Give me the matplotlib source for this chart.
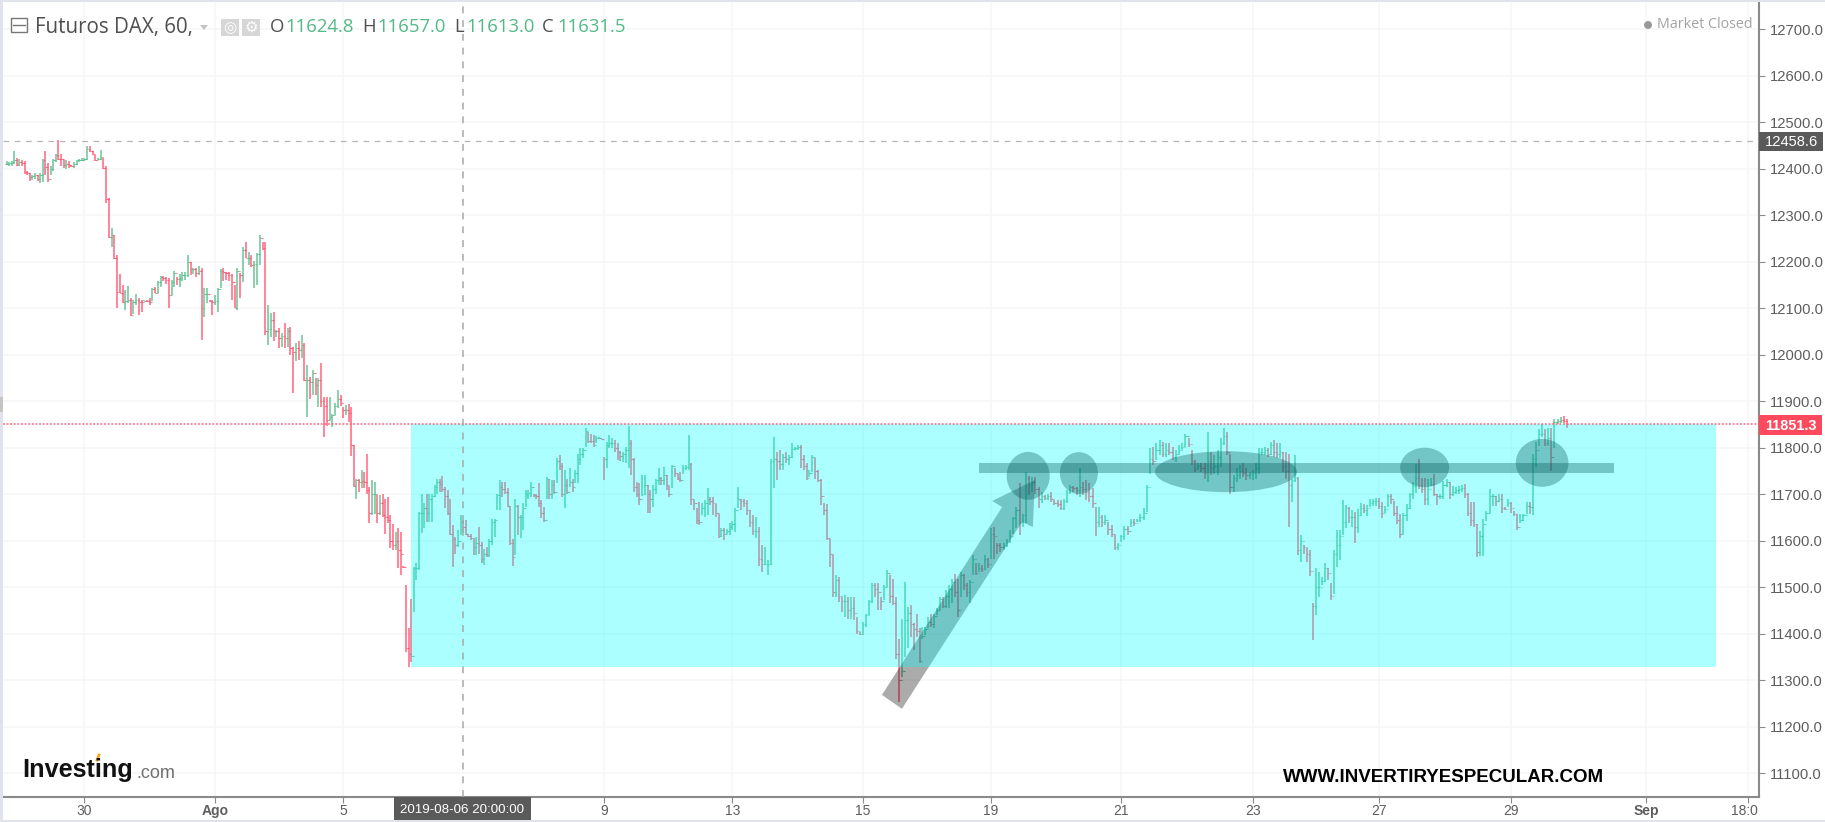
import matplotlib
matplotlib.use("Agg")
import matplotlib.pyplot as plt
from matplotlib.patches import Ellipse, Polygon, Rectangle
from matplotlib.transforms import Bbox

W, H = 1825, 822

# Barras horarias (high, low, close), um bloco por intervalo entre ticks do eixo x
bars_before_30 = [(12416,12407,12410),(12413,12405,12411),(12416,12406,12413),(12438,12409,12418),(12422,12406,12408),
    (12420,12406,12413),(12418,12405,12411),(12416,12389,12392),(12394,12385,12391),(12391,12373,12381),
    (12387,12376,12384),(12390,12378,12385),(12386,12373,12377),(12390,12369,12385),(12420,12370,12418),
    (12438,12386,12404),(12411,12371,12378),(12405,12385,12398),(12421,12395,12418),(12432,12415,12430),
    (12461,12418,12421),(12432,12405,12420),(12419,12402,12407),(12418,12400,12410),(12416,12402,12407),
    (12408,12403,12405),(12414,12402,12410),(12419,12408,12418),(12420,12415,12418),(12422,12416,12418)]
bars_30 = [(12422,12416,12420),(12448,12418,12442),(12448,12435,12438),(12438,12428,12432),(12430,12416,12418),
    (12422,12418,12420),(12440,12418,12425),(12423,12400,12402),(12405,12325,12334),(12336,12250,12252),
    (12271,12232,12258),(12258,12205,12208),(12214,12099,12135),(12173,12132,12132),(12150,12111,12113),
    (12139,12096,12115),(12147,12110,12118),(12121,12083,12084),(12117,12088,12112),(12130,12107,12117),
    (12121,12085,12113),(12117,12092,12112),(12117,12115,12116),(12117,12113,12115),(12121,12107,12112),
    (12142,12116,12140),(12146,12132,12133),(12157,12133,12155),(12169,12146,12166),(12169,12157,12165),
    (12166,12152,12160),(12164,12099,12127),(12160,12128,12155),(12180,12146,12175),(12167,12150,12162),
    (12174,12146,12165),(12178,12157,12170),(12178,12160,12172),(12214,12167,12200),(12199,12170,12183),
    (12185,12173,12183),(12185,12167,12176),(12190,12171,12180),(12187,12031,12099),(12142,12081,12130),
    (12142,12110,12130),(12117,12113,12115),(12117,12085,12112)]
bars_ago = [(12128,12107,12115),(12142,12092,12140),(12183,12142,12180),(12185,12159,12178),(12178,12160,12175),
    (12178,12157,12172),(12173,12117,12155),(12149,12099,12100),(12185,12096,12180),(12176,12121,12170),
    (12232,12155,12225),(12243,12207,12208),(12221,12192,12208),(12214,12189,12192),(12201,12142,12195),
    (12219,12150,12216),(12257,12192,12250),(12243,12225,12230),(12241,12042,12050),(12106,12020,12055),
    (12089,12038,12075),(12092,12028,12050),(12053,12038,12050),(12056,12013,12035),(12046,12017,12040),
    (12067,12013,12035),(12056,12017,12050),(12060,12000,12015),(12017,11917,12005),(12024,11985,12015),
    (12028,11988,12010),(12042,11992,12020),(12025,11942,11945),(11978,11866,11945),(11952,11905,11940),
    (11967,11913,11960),(11950,11913,11935),(11950,11888,11945),(11982,11888,11900),(11909,11823,11890),
    (11909,11846,11860),(11909,11859,11865),(11873,11845,11870),(11895,11870,11890),(11923,11884,11905),
    (11913,11890,11895)]
bars_5 = [(11888,11863,11880),(11891,11870,11880),(11893,11855,11875),(11888,11782,11805),(11805,11716,11718),
    (11733,11690,11730),(11733,11705,11725),(11752,11712,11728),(11748,11712,11725),(11786,11701,11708),
    (11716,11638,11660),(11730,11655,11700),(11726,11658,11700),(11698,11638,11660),(11698,11655,11680),
    (11700,11651,11655),(11690,11615,11650),(11693,11637,11645),(11655,11583,11600),(11635,11579,11590),
    (11619,11579,11600),(11626,11540,11580),(11619,11525,11570),(11545,11540,11543),(11504,11361,11368),
    (11411,11327,11356),(11475,11339,11352),(11543,11447,11540),(11551,11515,11540),(11662,11536,11660),
    (11700,11617,11660),(11680,11626,11670),(11701,11640,11660),(11701,11640,11690),(11699,11640,11695),
    (11719,11694,11715),(11733,11701,11725),(11733,11705,11722),(11738,11705,11710),(11716,11669,11695),
    (11708,11655,11660),(11690,11612,11615),(11633,11543,11603),(11608,11572,11590),(11622,11586,11600),
    (11655,11612,11640),(11644,11619,11630),(11645,11612,11615),(11615,11607,11610),(11615,11601,11605),
    (11604,11569,11585),(11608,11569,11595),(11630,11572,11590),(11597,11551,11560),(11581,11547,11570),
    (11586,11564,11568),(11604,11564,11600),(11647,11590,11640),(11647,11608,11645),(11701,11665,11698),
    (11730,11665,11715),(11726,11694,11710),(11726,11701,11705),(11712,11673,11675),(11674,11590,11595),
    (11604,11545,11565),(11690,11569,11675),(11676,11612,11650),(11655,11605,11650),(11680,11622,11670),
    (11708,11673,11700),(11708,11690,11702),(11726,11694,11715),(11700,11693,11697),(11701,11690,11695),
    (11723,11673,11680),(11687,11648,11660),(11673,11640,11645),(11737,11690,11733),(11733,11690,11700),
    (11730,11690,11720),(11730,11701,11705),(11777,11723,11770),(11784,11751,11760),(11766,11694,11700),
    (11751,11669,11720),(11733,11701,11705),(11755,11716,11725),(11733,11705,11715),(11751,11723,11745),
    (11787,11723,11775),(11798,11762,11785),(11798,11777,11795),(11841,11802,11835),(11834,11810,11815),
    (11830,11809,11813),(11827,11802,11805),(11825,11810,11820),(11823,11818,11820),(11821,11818,11819)]
bars_9 = [(11780,11730,11775),(11812,11755,11805),(11827,11798,11810),(11820,11798,11810),(11816,11791,11800),
    (11809,11774,11790),(11793,11772,11782),(11791,11769,11785),(11802,11766,11795),(11846,11755,11810),
    (11817,11741,11775),(11777,11705,11715),(11726,11694,11700),(11723,11676,11690),(11741,11695,11700),
    (11741,11698,11720),(11719,11660,11700),(11708,11660,11690),(11719,11673,11710),(11733,11701,11730),
    (11755,11719,11735),(11737,11719,11730),(11758,11719,11740),(11741,11708,11720),(11717,11694,11700),
    (11762,11712,11760),(11755,11737,11745),(11744,11730,11735),(11748,11726,11730),(11762,11744,11755),
    (11762,11751,11758),(11827,11751,11765),(11766,11676,11690),(11687,11665,11680),(11669,11635,11645),
    (11683,11633,11640),(11680,11655,11670),(11687,11651,11680),(11712,11655,11690),(11694,11676,11685),
    (11694,11655,11680),(11678,11651,11660),(11658,11605,11610),(11626,11608,11622),(11626,11601,11615),
    (11624,11615,11620),(11637,11612,11630)]
bars_13 = [(11642,11622,11635),(11669,11619,11665),(11716,11669,11690),(11690,11665,11685),(11690,11673,11680),
    (11687,11655,11665),(11665,11630,11640),(11655,11612,11620),(11651,11605,11620),(11630,11545,11560),
    (11590,11533,11550),(11586,11547,11550),(11558,11526,11550),(11776,11547,11770),(11822,11712,11775),
    (11791,11730,11770),(11794,11751,11765),(11787,11751,11780),(11791,11766,11775),(11784,11762,11780),
    (11810,11777,11797),(11802,11795,11798),(11805,11795,11802),(11805,11755,11775),(11784,11751,11760),
    (11766,11730,11735),(11751,11737,11745),(11784,11748,11780),(11777,11733,11750),(11751,11726,11730),
    (11733,11676,11695),(11680,11655,11665),(11678,11601,11605),(11604,11543,11570),(11569,11479,11490),
    (11525,11479,11515),(11522,11468,11480),(11479,11447,11470),(11483,11436,11470),(11479,11432,11450),
    (11479,11432,11455),(11479,11428,11445),(11436,11400,11405),(11404,11397,11400)]
bars_15 = [(11425,11397,11420),(11443,11415,11440),(11473,11440,11470),(11508,11465,11505),(11508,11479,11495),
    (11508,11450,11490),(11479,11450,11470),(11504,11472,11500),(11536,11500,11530),(11525,11465,11480),
    (11518,11461,11465),(11479,11346,11355),(11389,11253,11300),(11432,11307,11320),(11511,11350,11430),
    (11458,11368,11445),(11461,11393,11420),(11422,11364,11410),(11443,11393,11405),(11411,11336,11340),
    (11415,11389,11395),(11415,11397,11410),(11436,11411,11425),(11443,11415,11420),(11443,11411,11438),
    (11454,11440,11450),(11479,11450,11475),(11479,11454,11460),(11493,11454,11480),(11504,11454,11495),
    (11518,11465,11510),(11529,11479,11490),(11518,11436,11450),(11533,11479,11525),(11529,11493,11505),
    (11508,11479,11490),(11515,11465,11510),(11569,11526,11560),(11551,11526,11530),(11551,11533,11540),
    (11547,11533,11538),(11569,11536,11560),(11562,11540,11550)]
bars_19 = [(11626,11561,11615),(11630,11561,11610),(11594,11572,11590),(11594,11576,11585),(11594,11579,11590),
    (11604,11586,11600),(11622,11594,11610),(11651,11615,11648),(11673,11626,11665),(11723,11612,11640),
    (11658,11630,11655),(11748,11637,11735),(11738,11698,11720),(11736,11705,11725),(11737,11701,11710),
    (11716,11669,11690),(11705,11680,11695),(11698,11687,11692),(11701,11687,11695),(11705,11683,11690),
    (11687,11676,11680),(11687,11672,11678),(11687,11665,11670),(11690,11665,11685),(11708,11680,11705),
    (11719,11701,11715),(11717,11705,11712),(11716,11698,11708),(11755,11694,11715),(11726,11698,11710),
    (11730,11687,11705),(11723,11683,11695),(11712,11669,11680),(11673,11610,11640),(11673,11630,11650),
    (11655,11630,11640),(11655,11633,11645),(11640,11612,11625),(11633,11608,11615),(11612,11579,11585),
    (11594,11579,11590)]
bars_21 = [(11612,11597,11610),(11631,11601,11625),(11631,11612,11620),(11647,11630,11640),(11647,11631,11638),
    (11647,11640,11645),(11658,11640,11650),(11669,11644,11660),(11719,11662,11715),(11798,11744,11775),
    (11802,11762,11770),(11809,11773,11795),(11816,11784,11805),(11812,11780,11785),(11809,11780,11795),
    (11809,11784,11790),(11802,11773,11780),(11794,11769,11785),(11805,11784,11795),(11809,11794,11802),
    (11830,11802,11825),(11820,11802,11808),(11794,11762,11770),(11773,11748,11755),(11766,11751,11760),
    (11766,11748,11755),(11766,11733,11745),(11834,11726,11770),(11791,11741,11755),(11784,11744,11760),
    (11794,11741,11780),(11820,11759,11810),(11841,11805,11825),(11834,11784,11790),(11787,11700,11715),
    (11741,11705,11735),(11755,11726,11740),(11762,11733,11750),(11766,11737,11745),(11755,11730,11740),
    (11748,11733,11742)]
bars_23 = [(11751,11730,11745),(11766,11733,11755),(11798,11744,11790),(11798,11784,11790),(11802,11784,11795),
    (11798,11780,11785),(11812,11784,11805),(11816,11780,11790),(11809,11777,11785),(11809,11777,11790),
    (11791,11748,11760),(11791,11733,11750),(11787,11630,11720),(11733,11683,11730),(11784,11726,11735),
    (11736,11569,11580),(11612,11554,11600),(11590,11572,11585),(11583,11554,11570),(11579,11523,11535),
    (11465,11386,11460),(11540,11440,11500),(11533,11479,11500),(11522,11504,11512),(11551,11511,11540),
    (11540,11515,11530),(11508,11472,11480),(11579,11486,11570),(11622,11543,11590),(11622,11558,11610),
    (11687,11612,11640),(11676,11626,11670),(11673,11637,11650),(11665,11630,11650),(11661,11594,11630),
    (11667,11617,11655),(11680,11653,11670),(11678,11660,11665),(11676,11653,11670),(11689,11671,11680),
    (11689,11675,11685),(11692,11675,11685)]
bars_27 = [(11692,11667,11675),(11682,11649,11660),(11674,11660,11668),(11700,11671,11695),(11700,11679,11690),
    (11685,11653,11660),(11674,11635,11645),(11657,11606,11615),(11660,11614,11655),(11678,11642,11670),
    (11703,11667,11700),(11725,11689,11718),(11764,11703,11735),(11775,11710,11720),(11735,11703,11710),
    (11735,11676,11690),(11732,11676,11710),(11735,11717,11722),(11743,11696,11700),(11700,11676,11695),
    (11700,11689,11695),(11728,11689,11720),(11732,11714,11725),(11725,11689,11700),(11718,11696,11705),
    (11716,11700,11708),(11718,11700,11710),(11720,11704,11712),(11721,11692,11700),(11703,11653,11660),
    (11682,11631,11645),(11682,11628,11635),(11635,11565,11575),(11621,11567,11610),(11646,11567,11635),
    (11664,11642,11660),(11710,11660,11695),(11700,11674,11695),(11696,11674,11685),(11700,11682,11690),
    (11700,11660,11670),(11671,11665,11668),(11689,11671,11680)]
bars_29 = [(11682,11660,11670),(11664,11653,11657),(11657,11623,11630),(11657,11637,11645),(11657,11643,11655),
    (11682,11657,11675),(11682,11657,11672),(11786,11654,11775),(11811,11757,11795),(11839,11803,11830),
    (11850,11822,11830),(11839,11803,11810),(11843,11803,11820),(11843,11750,11780),(11861,11800,11855),
    (11861,11850,11858),(11865,11852,11860),(11868,11852,11856),(11861,11843,11851.3)]

# posição (em barras) onde começa cada bloco; a última é o fim da série
block_starts = [0, 26.6, 71.2, 115, 203.9, 247.7, 292.3, 336, 380.4, 425.4, 468.4, 513.5, 533.6]
blocks = [bars_before_30, bars_30, bars_ago, bars_5, bars_9, bars_13, bars_15, bars_19, bars_21, bars_23, bars_27, bars_29]

x_tick_pos = [26.6, 71.2, 115, 203.9, 247.7, 292.3, 336, 380.4, 425.4, 468.4, 513.5, 559.6, 594.4]
x_tick_labels = ["30", "Ago", "5", "9", "13", "15", "19", "21", "23", "27", "29", "Sep", "18:00"]
y_ticks = [11100, 11200, 11300, 11400, 11500, 11600, 11700, 11800, 11900, 12000, 12100, 12200, 12300, 12400, 12500, 12600, 12700]

last_price = 11851.3
ref_price = 12458.6
cross_x = 155.8
cross_label = "2019-08-06 20:00:00"
ohlc_labels = ["O", "H", "L", "C"]
ohlc_values = ["11624.8", "11657.0", "11613.0", "11631.5"]
ohlc_label_px = [270, 362, 454, 542]
ohlc_value_px = [285, 377, 466, 557]

# desenhos feitos à mão por cima do gráfico
box_x = (138, 583.5)
box_y = (11328, last_price)
level_x = (331.9, 548.6)
level_y = (11745, 11767)
circles = [(348.7, 11739, 14.7, 103), (366, 11745, 13, 90), (416.2, 11748, 48.5, 88),
           (484, 11757, 16.7, 85), (524.1, 11767, 18, 103)]
arrow_pts = [(298.8, 11268), (339.8, 11672), (336.4, 11685), (351, 11730),
             (350.3, 11629), (346.6, 11640), (305.6, 11238)]

UP = "#53b987"
DOWN = "#ff4a68"
GRID = "#f6f6f7"
AXIS = "#8a8a8a"
TXT = "#5d5d5d"

plt.rcParams['font.family'] = ['Liberation Sans', 'DejaVu Sans']


def fx(px):
    return px / W


def fy(py):
    return 1 - py / H


fig = plt.figure(figsize=(W / 100, H / 100), dpi=100, facecolor="white")
ax = fig.add_axes([fx(3), fy(797), fx(1759 - 3), fy(2) - fy(797)])
ax.set_xlim((3 - 6.5) / 2.93, (1759 - 6.5) / 2.93)
ax.set_ylim(12700 - (797 - 29) / 0.465, 12700 + 27 / 0.465)

for s in ["top", "left"]:
    ax.spines[s].set_visible(False)
for s in ["right", "bottom"]:
    ax.spines[s].set_color(AXIS)
    ax.spines[s].set_linewidth(1.5)

ax.set_xticks(x_tick_pos)
ax.set_xticklabels([])
ax.set_yticks(y_ticks)
ax.yaxis.tick_right()
ax.set_yticklabels([f"{v:.1f}" for v in y_ticks], fontsize=10.6, color=TXT)
ax.tick_params(axis="y", length=4, width=0.8, color=AXIS, pad=4)
ax.tick_params(axis="x", length=4, width=0.8, color=AXIS)
ax.grid(True, color=GRID, linewidth=1.1, zorder=0)
ax.set_axisbelow(True)

# barras OHLC, abertura = fecho da barra anterior
prev_close = bars_before_30[0][2]
for n, block in enumerate(blocks):
    step = (block_starts[n + 1] - block_starts[n]) / len(block)
    for k, (hi, lo, cl) in enumerate(block):
        op = prev_close
        pos = block_starts[n] + k * step
        col = UP if cl >= op else DOWN
        ax.vlines(pos, lo, hi, color=col, linewidth=1.1, alpha=0.85, zorder=2)
        ax.hlines(op, pos - 0.45, pos, color=col, linewidth=0.8, alpha=0.85, zorder=2)
        ax.hlines(cl, pos, pos + 0.45, color=col, linewidth=0.8, alpha=0.85, zorder=2)
        prev_close = cl

# formas cinzentas por baixo do retângulo ciano
shade = dict(facecolor="black", edgecolor="none", alpha=0.33, zorder=3)
ax.add_patch(Polygon(arrow_pts, closed=True, **shade))
ax.add_patch(Rectangle((level_x[0], level_y[0]), level_x[1] - level_x[0], level_y[1] - level_y[0], **shade))
for cx, cy, w, h in circles:
    ax.add_patch(Ellipse((cx, cy), w, h, **shade))
ax.add_patch(Rectangle((box_x[0], box_y[0]), box_x[1] - box_x[0], box_y[1] - box_y[0],
                       facecolor="#00ffff", edgecolor="none", alpha=0.33, zorder=4))

# linhas de preço e crosshair
ax.axhline(last_price, color="#ff5a6e", linewidth=1.3, linestyle=(0, (1, 1)), alpha=0.8, zorder=5)
ax.axhline(ref_price, color="#b5b5b5", linewidth=0.9, linestyle=(0, (4.5, 4.5)), zorder=5)
ax.axvline(cross_x, color="#a8a8a8", linewidth=1.1, linestyle=(0, (4.5, 4.5)), zorder=5)

# etiquetas do eixo x
for pos, lab in zip(x_tick_pos, x_tick_labels):
    px = 6.5 + 2.93 * pos
    bold = lab in ("Ago", "Sep")
    t = fig.text(fx(px), fy(811), lab, fontsize=10, color=TXT, ha="center", va="center",
                 fontweight="bold" if bold else "normal")
    if lab == "18:00":
        t.set_clip_box(Bbox([[0, 0], [1758, H]]))
        t.set_clip_on(True)

# caixas de preço e de data
def fig_rect(x0, y0, x1, y1, color, **kw):
    fig.add_artist(Rectangle((fx(x0), fy(y1)), fx(x1 - x0), fy(y0) - fy(y1), transform=fig.transFigure,
                             facecolor=color, edgecolor="none", **kw))


fig_rect(394, 797, 531, 821, "#5a5a5a", zorder=6)
fig.text(fx(462.5), fy(810), cross_label, fontsize=9.6, color="white", ha="center", va="center", zorder=7)
fig_rect(1759, 132, 1823, 151, "#5a5a5a", zorder=6)
fig.text(fx(1791), fy(141.5), f"{ref_price:.1f}", fontsize=10.6, color="white", ha="center", va="center", zorder=7)
fig_rect(1759, 415, 1822, 435, "#ff4a5e", zorder=6)
fig.text(fx(1791), fy(425.5), f"{last_price:.1f}", fontsize=10.4, color="white", ha="center", va="center", zorder=7,
         fontweight="bold")

# bordas claras da janela
fig_rect(0, 0, W, 2, "#e0e3eb", zorder=8)
fig_rect(0, 0, 3, H, "#e0e3eb", zorder=8)
fig_rect(0, 820, W, H, "#e0e3eb", zorder=8)
fig_rect(0, 397, 3, 412, "#c4c4c4", zorder=9)

# cabeçalho
fig.add_artist(Rectangle((fx(11), fy(32)), fx(16), fy(18) - fy(32), transform=fig.transFigure,
                         facecolor="white", edgecolor="#777777", linewidth=1.0))
fig.add_artist(plt.Line2D([fx(13), fx(25)], [fy(25), fy(25)], color="#777777", linewidth=1.0))
fig.text(fx(35), fy(27), "Futuros DAX, 60,", fontsize=14.8, color="#4f4f4f", va="center", family=["Open Sans", "DejaVu Sans"])
fig.add_artist(Polygon([(fx(200), fy(25)), (fx(208), fy(25)), (fx(204), fy(30))], closed=True,
                       transform=fig.transFigure, facecolor="#c4c4c4", edgecolor="none"))
fig_rect(221, 19, 239, 36, "#d6d6d6")
fig_rect(242, 19, 260, 36, "#d6d6d6")
fig.text(fx(230), fy(27.5), "◎", fontsize=11, color="white", ha="center", va="center", family="DejaVu Sans")
fig.text(fx(251), fy(27.5), "⚙", fontsize=11, color="white", ha="center", va="center", family="DejaVu Sans")
for lab, val, lx, vx in zip(ohlc_labels, ohlc_values, ohlc_label_px, ohlc_value_px):
    fig.text(fx(lx), fy(27.5), lab, fontsize=13.3, color="#4f4f4f", va="center", family=["Open Sans", "DejaVu Sans"])
    fig.text(fx(vx), fy(27.5), val, fontsize=13.3, color=UP, va="center", family=["Open Sans", "DejaVu Sans"])

fig.add_artist(Ellipse((fx(1648), fy(25)), fx(8), fy(0) - fy(8), transform=fig.transFigure, facecolor="#999999", edgecolor="none"))
fig.text(fx(1657), fy(25), "Market Closed", fontsize=10.3, color="#a3a3a3", va="center", family=["Open Sans", "DejaVu Sans"])

# marcas de água
fig.text(fx(22), fy(770), "Investing", fontsize=18.2, fontweight="bold", color="#111111", va="center")
fig.add_artist(plt.Line2D([fx(97), fx(99)], [fy(760), fy(755)], color="#f5a623", linewidth=2))
fig.text(fx(136), fy(773), ".com", fontsize=13, color="#6f6f6f", va="center")
fig.text(fx(1283), fy(777), "WWW.INVERTIRYESPECULAR.COM", fontsize=13.5, fontweight="bold", color="black", va="center")

fig.savefig("out.png", dpi=100)
